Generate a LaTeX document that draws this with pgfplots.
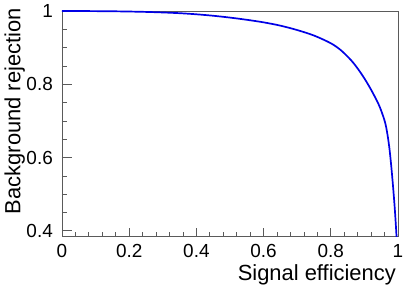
\documentclass[border=0pt]{standalone}
\usepackage{pgfplots}
\pgfplotsset{compat=1.18}
\usepackage{fontspec}
\setmainfont{Liberation Sans}
\definecolor{framegray}{RGB}{90,90,90}
\begin{document}
\begin{tikzpicture}
\path[use as bounding box] (-62bp,-60bp) rectangle (353bp,236bp);
\begin{axis}[
  name=ax,
  at={(0,0)}, anchor=south west,
  scale only axis,
  width=336bp, height=225bp,
  xmin=0, xmax=1, ymin=0.386, ymax=1.0,
  xtick={0,0.2,0.4,0.6,0.8,1},
  xticklabels={0,0.2,0.4,0.6,0.8,1},
  ytick={0.4,0.6,0.8,1},
  yticklabels={0.4,0.6,0.8,1},
  minor x tick num=4,
  minor y tick num=3,
  tick pos=left,
  tick align=inside,
  xtick style={framegray, line width=0.8bp},
  ytick style={framegray, line width=0.8bp},
  axis line style={framegray, line width=0.8bp},
  x tick style={/pgfplots/major tick length=7.5bp, /pgfplots/minor tick length=3.8bp},
  y tick style={/pgfplots/major tick length=10bp, /pgfplots/minor tick length=5bp},
  xticklabel style={font=\fontsize{19}{22}\selectfont, inner sep=0pt, anchor=north, yshift=-8bp},
  yticklabel style={font=\fontsize{19}{22}\selectfont, inner sep=0pt, anchor=east, xshift=-9bp},
  /pgf/number format/assume math mode=true,
  clip=true,
]
\addplot[color={rgb,255:red,0;green,0;blue,230}, no markers, line width=1.7bp, smooth, tension=0.5] coordinates {
(0,1.0) (0.05,0.9999) (0.1,0.9996) (0.15,0.9992) (0.2,0.9985) (0.25,0.9975)
(0.3,0.996) (0.35,0.994) (0.4,0.991) (0.45,0.987) (0.5,0.982) (0.55,0.976)
(0.6,0.969) (0.65,0.960) (0.7,0.948) (0.75,0.933) (0.8,0.912) (0.83,0.893)
(0.86,0.866) (0.88,0.843) (0.9,0.816) (0.92,0.785) (0.94,0.750) (0.95,0.728)
(0.96,0.701) (0.965,0.682) (0.97,0.655) (0.975,0.621) (0.98,0.576) (0.985,0.524)
(0.99,0.466) (0.994,0.41) (0.996,0.378)
};
\end{axis}
\node[rotate=90, anchor=south east, inner sep=0pt, font=\fontsize{22}{26}\selectfont] at ([xshift=-37bp,yshift=3bp]ax.north west) {Background rejection};
\node[anchor=north east, inner sep=0pt, font=\fontsize{22}{26}\selectfont] at ([xshift=-2bp,yshift=-28bp]ax.south east) {Signal efficiency};
\end{tikzpicture}
\end{document}
